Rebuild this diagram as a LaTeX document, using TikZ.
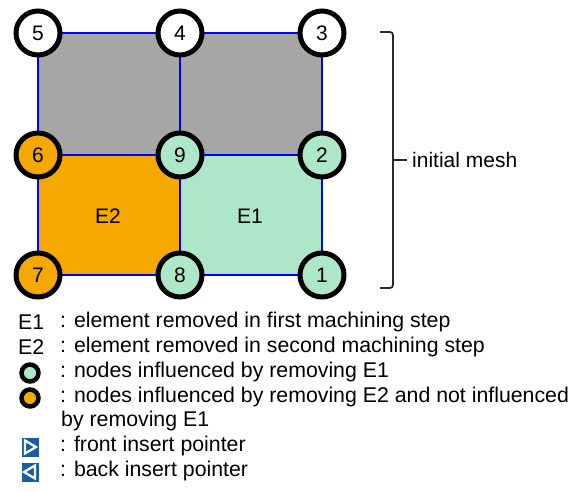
\documentclass[tikz,border=0pt]{standalone}
\usepackage{fontspec}
\setmainfont{Liberation Sans}
\usetikzlibrary{calc}
\definecolor{meshgrey}{HTML}{A6A6A6}
\definecolor{meshorange}{HTML}{F5A800}
\definecolor{meshgreen}{HTML}{AEE6C8}
\definecolor{ptrblue}{HTML}{1A5DA6}
\definecolor{bracegrey}{HTML}{2A2A2A}
\begin{document}
\begin{tikzpicture}[x=1pt,y=-1pt,
  meshnode/.style={circle,draw=black,line width=5pt,minimum size=44pt,inner sep=0pt,font=\fontsize{21}{24}\selectfont},
  wnode/.style={meshnode,fill=white},
  gnode/.style={meshnode,fill=meshgreen},
  onode/.style={meshnode,fill=meshorange},
  edge/.style={draw=blue,line width=1.6pt},
  legtext/.style={anchor=west,font=\fontsize{21.3}{24}\selectfont,inner sep=0pt},
  legcirc/.style={circle,draw=black,line width=4.5pt,minimum size=17pt,inner sep=0pt},
  ptrbox/.style={fill=ptrblue,minimum width=17pt,minimum height=19pt,inner sep=0pt}
]
\useasboundingbox (0,0) rectangle (576,492);
% fills
\fill[meshgrey] (38,33) rectangle (322,155);
\fill[meshorange] (38,155) rectangle (180,275);
\fill[meshgreen] (180,155) rectangle (322,275);
% grid lines
\draw[edge] (38,33) rectangle (322,275);
\draw[edge] (38,155) -- (322,155);
\draw[edge] (180,33) -- (180,275);
% nodes
\node[wnode] (n5) at (38,33) {5};
\node[wnode] (n4) at (180,33) {4};
\node[wnode] (n3) at (322,33) {3};
\node[onode] (n6) at (38,155) {6};
\node[gnode] (n9) at (180,155) {9};
\node[gnode] (n2) at (322,155) {2};
\node[onode] (n7) at (38,275) {7};
\node[gnode] (n8) at (180,275) {8};
\node[gnode] (n1) at (322,275) {1};
\node[font=\fontsize{21}{24}\selectfont] (e2) at (108,216) {E2};
\node[font=\fontsize{21}{24}\selectfont] (e1) at (250,216) {E1};
% brace
\coordinate (bt) at (380,32);
\coordinate (bb) at (380,288);
\coordinate (btip) at (407,160);
\draw[bracegrey,line width=1.8pt,rounded corners=3pt] (bt) -- (393,32) -- (393,288) -- (bb);
\draw[bracegrey,line width=1.8pt] (393,160) -- (btip);
\node[legtext,font=\fontsize{21}{24}\selectfont] (im) at (412,160) {initial mesh};
% legend
\node[legtext] (l1a) at (18,322) {E1};
\node[legtext] (l1) at (60,322) {: element removed in first machining step};
\node[legtext] (l2a) at (18,347) {E2};
\node[legtext] (l2) at (60,347) {: element removed in second machining step};
\node[legcirc,fill=meshgreen] (c1) at (30,373) {};
\node[legtext] (l3) at (60,372) {: nodes influenced by removing E1};
\node[legcirc,fill=meshorange] (c2) at (30,398) {};
\node[legtext] (l4) at (60,397) {: nodes influenced by removing E2 and not influenced};
\node[legtext] (l4b) at (61,421) {by removing E1};
\node[ptrbox] (p1) at (30,447) {};
\draw[white,line width=2.2pt,line join=miter] ($(p1)+(-5,-6.5)$) -- ($(p1)+(6,0)$) -- ($(p1)+(-5,6.5)$) -- cycle;
\node[legtext] (l5) at (60,446) {: front insert pointer};
\node[ptrbox] (p2) at (30,472) {};
\draw[white,line width=2.2pt,line join=miter] ($(p2)+(5,-6.5)$) -- ($(p2)+(-6,0)$) -- ($(p2)+(5,6.5)$) -- cycle;
\node[legtext] (l6) at (60,471) {: back insert pointer};
\end{tikzpicture}
\end{document}
